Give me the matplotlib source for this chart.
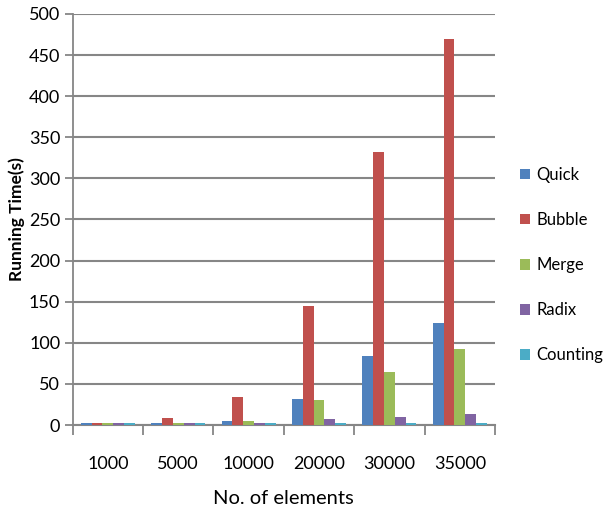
import numpy as np
import matplotlib
matplotlib.use("Agg")
import matplotlib.pyplot as plt

plt.rcParams['font.family'] = ['Lato', 'DejaVu Sans']

sizes = ["1000", "5000", "10000", "20000", "30000", "35000"]
quick = [3, 3, 5, 32, 84, 124]
bubble = [3, 8, 34, 145, 332, 469]
merge = [3, 3, 5, 30, 65, 93]
radix = [3, 3, 3, 7, 10, 13]
counting = [3, 3, 3, 3, 3, 3]

series = [("Quick", quick, "#4F81BD"), ("Bubble", bubble, "#C0504D"),
          ("Merge", merge, "#9BBB59"), ("Radix", radix, "#8064A2"),
          ("Counting", counting, "#4BACC6")]

fig = plt.figure(figsize=(6.04, 5.15), dpi=100)
ax = fig.add_axes([72.7 / 604, 90 / 515, (495 - 72.7) / 604, (425 - 14) / 515])

x = np.arange(len(sizes))
w = 1 / 6.5
for i, (name, vals, col) in enumerate(series):
    ax.bar(x + (i - 2) * w, vals, w, color=col, label=name, zorder=3)

ax.set_xlim(-0.5, len(sizes) - 0.5)
ax.set_ylim(0, 500)
ax.set_yticks(range(0, 501, 50))
ax.set_xticks(x)
ax.set_xticklabels(sizes, fontsize=13)
ax.set_xticks(np.arange(-0.5, len(sizes)), minor=True)
ax.tick_params(axis='x', which='major', length=0, pad=22)
ax.tick_params(axis='x', which='minor', length=7, color="#868686", width=1.3)
ax.tick_params(axis='y', length=6, color="#868686", width=1.3, labelsize=13, pad=3)
ax.grid(axis='y', color="#868686", linewidth=1.5, zorder=0)

for s in ["top", "right"]:
    ax.spines[s].set_visible(False)
ax.spines["left"].set_color("#868686")
ax.spines["left"].set_linewidth(1.3)
ax.spines["bottom"].set_color("#868686")
ax.spines["bottom"].set_linewidth(1.5)

ax.set_ylabel("Running Time(s)", fontsize=12.5, fontweight="bold", labelpad=3)
ax.set_xlabel("No. of elements", fontsize=14.5, labelpad=13)

ax.legend(loc="center left", bbox_to_anchor=(1.0, 0.389), frameon=False,
          fontsize=12, handlelength=0.6, handleheight=0.6, handletextpad=0.4,
          labelspacing=1.75, borderaxespad=1.1)

fig.savefig("out.png", dpi=100)
